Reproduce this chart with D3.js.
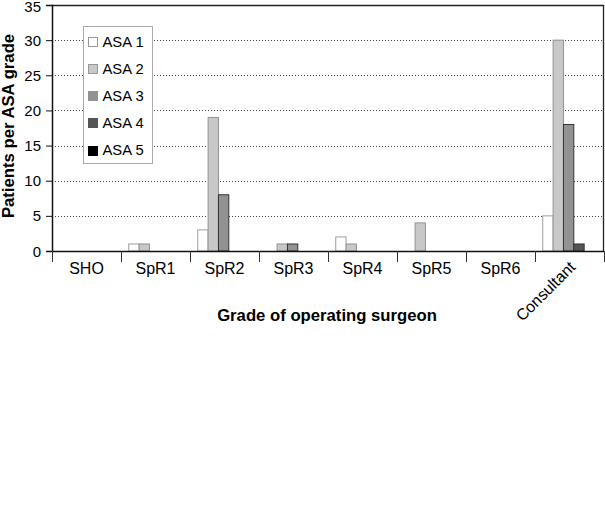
<!DOCTYPE html>
<html>
<head>
<meta charset="utf-8">
<script src="https://cdn.jsdelivr.net/npm/d3@7"></script>
<style>
  html, body { margin: 0; padding: 0; background: #fff; }
  svg { display: block; font-family: Arial, "Liberation Sans", Helvetica, sans-serif; }
</style>
</head>
<body>
<script>
// ---- data ----
const categories = ["SHO", "SpR1", "SpR2", "SpR3", "SpR4", "SpR5", "SpR6", "Consultant"];
const seriesNames = ["ASA 1", "ASA 2", "ASA 3", "ASA 4", "ASA 5"];
const asa1 = [0, 1, 3, 0, 2, 0, 0, 5];
const asa2 = [0, 1, 19, 1, 1, 4, 0, 30];
const asa3 = [0, 0, 8, 1, 0, 0, 0, 18];
const asa4 = [0, 0, 0, 0, 0, 0, 0, 1];
const asa5 = [0, 0, 0, 0, 0, 0, 0, 0];
const yTickValues = [0, 5, 10, 15, 20, 25, 30, 35];
const yTitle = "Patients per ASA grade";
const xTitle = "Grade of operating surgeon";

(function () {
const seriesValues = [asa1, asa2, asa3, asa4, asa5];
const fills = ["#ffffff", "#c8c8c8", "#929292", "#555555", "#000000"];
const strokes = ["#a0a0a0", "#939393", "#333333", "#333333", "#000000"];

const W = 605, H = 510;
const mL = 52, mR = 604, mT = 5, mB = 251;

const svg = d3.select("body").append("svg").attr("width", W).attr("height", H);
svg.append("rect").attr("width", W).attr("height", H).attr("fill", "#fff");

const x = d3.scaleBand().domain(categories).range([mL, mR]).padding(0);
const bw = x.bandwidth();
const x1 = d3.scaleBand().domain(seriesNames).range([bw * 0.105, bw * 0.105 + bw * 0.75]).padding(0);
const y = d3.scaleLinear().domain([0, 35]).range([mB, mT]);

// gridlines
svg.append("g").selectAll("line").data(yTickValues.filter(v => v > 0 && v < 35)).join("line")
  .attr("x1", mL).attr("x2", 603.5)
  .attr("y1", d => Math.round(y(d)) + 0.5).attr("y2", d => Math.round(y(d)) + 0.5)
  .attr("stroke", "#444").attr("stroke-width", 1).attr("stroke-dasharray", "1,2");

// bars
const barData = [];
categories.forEach((c, i) => {
  seriesNames.forEach((s, j) => {
    const v = seriesValues[j][i];
    if (v > 0) barData.push({ c, s, j, v });
  });
});
svg.append("g").selectAll("rect").data(barData).join("rect")
  .attr("x", d => x(d.c) + x1(d.s) + 0.5)
  .attr("y", d => y(d.v))
  .attr("width", x1.bandwidth())
  .attr("height", d => y(0) - y(d.v))
  .attr("fill", d => fills[d.j])
  .attr("stroke", d => strokes[d.j])
  .attr("stroke-width", 1);

// frame top & right
svg.append("line").attr("x1", mL).attr("x2", 603.5).attr("y1", mT + 0.5).attr("y2", mT + 0.5)
  .attr("stroke", "#222").attr("stroke-width", 1.3);
svg.append("line").attr("x1", 603.5).attr("x2", 603.5).attr("y1", mT).attr("y2", mB)
  .attr("stroke", "#222").attr("stroke-width", 1.3);

// y axis
const yAxis = svg.append("g").attr("transform", `translate(${mL},0)`)
  .call(d3.axisLeft(y).tickValues(yTickValues).tickSize(6).tickPadding(5).tickFormat(d3.format("d")));
yAxis.select(".domain").attr("stroke", "#111").attr("stroke-width", 1.5);
yAxis.selectAll(".tick line").attr("stroke", "#111");
yAxis.selectAll(".tick text").attr("font-size", 15).attr("fill", "#000")
  .attr("dy", d => d === 35 ? "0.45em" : "0.34em")
  .attr("font-family", "Arial, 'Liberation Sans', sans-serif");

// x axis line
svg.append("line").attr("x1", mL).attr("x2", 604).attr("y1", mB + 0.5).attr("y2", mB + 0.5)
  .attr("stroke", "#111").attr("stroke-width", 1.6);
// x ticks at band boundaries
const boundaries = categories.map(c => x(c)).concat([603.5]);
svg.append("g").selectAll("line").data(boundaries).join("line")
  .attr("x1", d => Math.round(d) + 0.5).attr("x2", d => Math.round(d) + 0.5)
  .attr("y1", mB).attr("y2", mB + 11)
  .attr("stroke", "#333").attr("stroke-width", 1);

// x labels
svg.append("g").selectAll("text").data(categories.filter(c => c !== "Consultant")).join("text")
  .attr("x", d => x(d) + bw / 2).attr("y", 274)
  .attr("text-anchor", "middle").attr("font-size", 16).attr("fill", "#000")
  .text(d => d);
svg.append("text")
  .attr("transform", `translate(${x("Consultant") + bw / 2 + 7},268) rotate(-45)`)
  .attr("text-anchor", "end").attr("font-size", 16).attr("fill", "#000")
  .text("Consultant");

// axis titles
svg.append("text").attr("x", 327).attr("y", 320.5).attr("text-anchor", "middle")
  .attr("font-size", 16.7).attr("font-weight", "bold").attr("fill", "#000").text(xTitle);
svg.append("text").attr("transform", `translate(13.5,126) rotate(-90)`).attr("text-anchor", "middle")
  .attr("font-size", 16.7).attr("font-weight", "bold").attr("fill", "#000").text(yTitle);

// legend
const lg = svg.append("g");
lg.append("rect").attr("x", 83.5).attr("y", 26.5).attr("width", 69).attr("height", 137)
  .attr("fill", "#fff").attr("stroke", "#aaa").attr("stroke-width", 1);
const rowY = i => 41.3 + i * 27.2;
lg.selectAll("rect.sw").data(seriesNames).join("rect").attr("class", "sw")
  .attr("x", 88.5).attr("y", (d, i) => Math.round(rowY(i) - 4.5) + 0.5)
  .attr("width", 9).attr("height", 9)
  .attr("fill", (d, i) => fills[i]).attr("stroke", (d, i) => i < 2 ? "#999" : fills[i]);
lg.selectAll("text").data(seriesNames).join("text")
  .attr("x", 102.5).attr("y", (d, i) => rowY(i) + 5.3)
  .attr("font-size", 14.8).attr("fill", "#000").text(d => d);
})();
</script>
</body>
</html>
